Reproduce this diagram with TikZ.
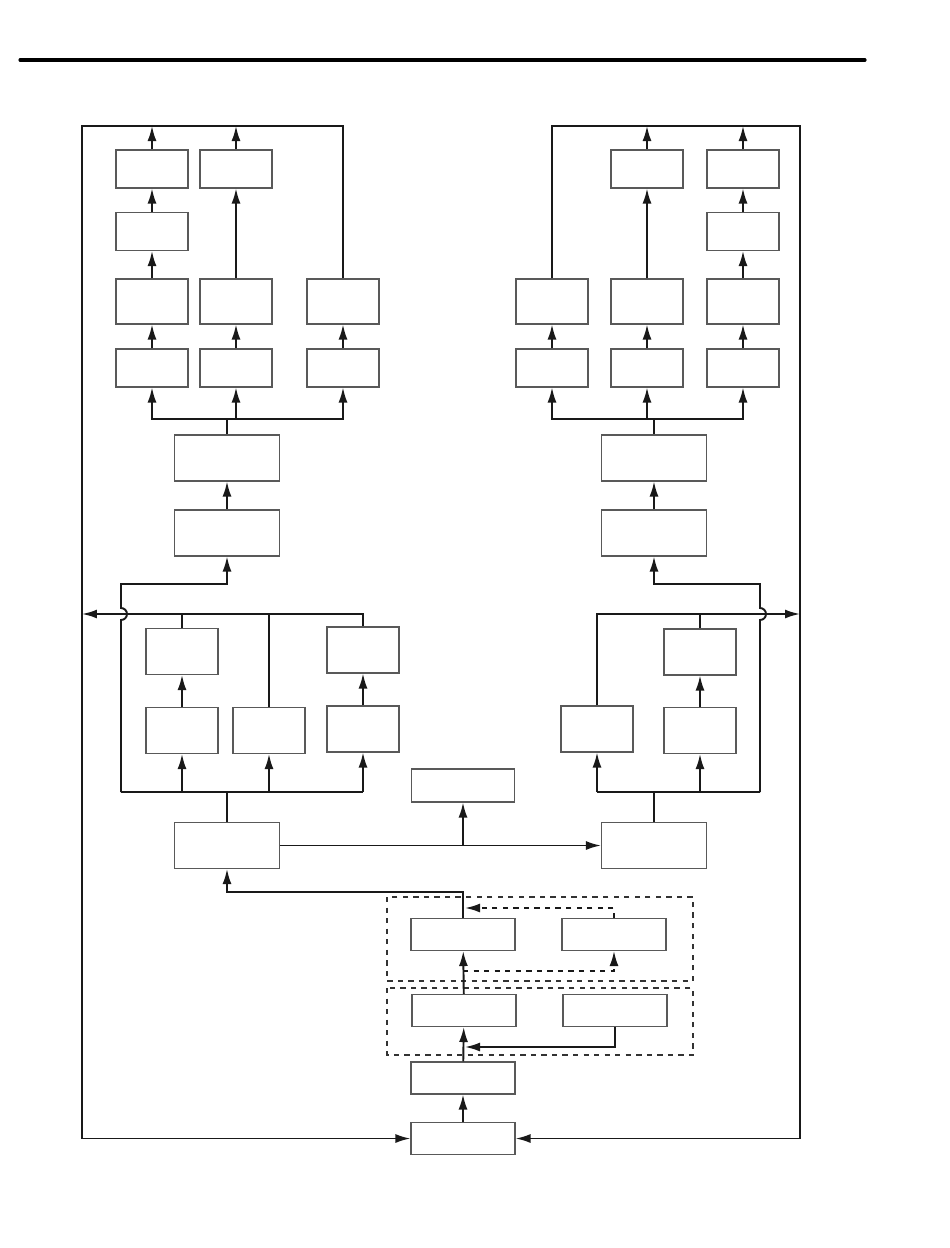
\documentclass[tikz,border=0pt]{standalone}
\usepackage{tikz}
\usetikzlibrary{positioning,arrows.meta,calc}
\tikzset{
  blk/.style={draw=black!65, line width=0.6pt, inner sep=0pt,
              minimum width=1.44cm, minimum height=0.76cm},
  blkhi/.style={blk, minimum height=0.9cm},
  blkmid/.style={blk, minimum height=0.92cm},
  blkwd/.style={blk, minimum width=2.1cm, minimum height=0.92cm},
  blkfl/.style={blk, minimum width=2.08cm, minimum height=0.64cm},
  flow/.style={-{Latex[length=3mm, width=1.8mm]}, line width=1.1pt, draw=black!90},
  link/.style={line width=1.1pt, draw=black!90},
  grp/.style={draw=black!80, dashed, line width=0.9pt},
}

\begin{document}
\begin{tikzpicture}[x=0.02cm, y=-0.02cm]
  \useasboundingbox (0,0) rectangle (950,1248);
  \draw[line width=1.8pt, line cap=round] (20,60) -- (865,60);

  % left top columns
  \node[blk]   (A1) at (152,169) {};
  \node[blk]   (A2) at (152,231.5) {};
  \node[blkhi] (A3) at (152,301.5) {};
  \node[blk]   (A4) at (152,368) {};
  \node[blk]   (B1) at (236,169) {};
  \node[blkhi] (B3) at (236,301.5) {};
  \node[blk]   (B4) at (236,368) {};
  \node[blkhi] (C3) at (343,301.5) {};
  \node[blk]   (C4) at (343,368) {};

  % right top columns
  \node[blkhi] (D3) at (552,301.5) {};
  \node[blk]   (D4) at (552,368) {};
  \node[blk]   (E1) at (647,169) {};
  \node[blkhi] (E3) at (647,301.5) {};
  \node[blk]   (E4) at (647,368) {};
  \node[blk]   (F1) at (743,169) {};
  \node[blk]   (F2) at (743,231.5) {};
  \node[blkhi] (F3) at (743,301.5) {};
  \node[blk]   (F4) at (743,368) {};

  \node[blkwd] (LU1) at (227,458) {};
  \node[blkwd] (LU2) at (227,533) {};
  \node[blkwd] (RU1) at (654,458) {};
  \node[blkwd] (RU2) at (654,533) {};

  % middle
  \node[blkmid] (G1) at (182,651.5) {};
  \node[blkmid] (G2) at (182,730.5) {};
  \node[blkmid] (H)  at (269,730.5) {};
  \node[blkmid] (I1) at (363,650) {};
  \node[blkmid] (I2) at (363,729) {};
  \node[blkmid] (J)  at (597,729) {};
  \node[blkmid] (K1) at (700,652) {};
  \node[blkmid] (K2) at (700,730.5) {};

  \node[blkwd] (L) at (227,845.5) {};
  \node[blkwd] (R) at (654,845.5) {};
  \node[blkfl, minimum height=0.66cm, minimum width=2.06cm] (M) at (463,785.5) {};

  % bottom
  \node[blkfl] (N1) at (463,934.5) {};
  \node[blkfl] (N2) at (614,934.5) {};
  \node[blkfl] (P1) at (464,1010.5) {};
  \node[blkfl] (P2) at (615,1010.5) {};
  \node[blkfl] (Q)  at (463,1078) {};
  \node[blkfl] (S)  at (463,1138.5) {};
  \draw[grp] (387,897) rectangle (693,981);
  \draw[grp] (387,988) rectangle (693,1055);

  \coordinate (ol) at (82,126);
  \coordinate (or) at (800,126);
  \coordinate (busL) at (227,419);
  \coordinate (busR) at (654,419);
  \coordinate (lowL) at (227,792);
  \coordinate (lowR) at (654,792);
  \coordinate (nl) at (227,892);

  % top left
  \draw[flow] (A4) -- (A3);
  \draw[flow] (A3) -- (A2);
  \draw[flow] (A2) -- (A1);
  \draw[flow] (A1) -- (A1 |- ol);
  \draw[flow] (B4) -- (B3);
  \draw[flow] (B3) -- (B1);
  \draw[flow] (B1) -- (B1 |- ol);
  \draw[flow] (C4) -- (C3);
  \draw[flow] (C3) |- (ol) -- (ol |- S) -- (S);

  % top right
  \draw[flow] (D4) -- (D3);
  \draw[flow] (D3) |- (or) -- (or |- S) -- (S);
  \draw[flow] (E4) -- (E3);
  \draw[flow] (E3) -- (E1);
  \draw[flow] (E1) -- (E1 |- or);
  \draw[flow] (F4) -- (F3);
  \draw[flow] (F3) -- (F2);
  \draw[flow] (F2) -- (F1);
  \draw[flow] (F1) -- (F1 |- or);

  \draw[link] (LU1) -- (busL);
  \draw[link] (RU1) -- (busR);
  \foreach \n in {A4,B4,C4} \draw[flow] (busL) -| (\n);
  \foreach \n in {D4,E4,F4} \draw[flow] (busR) -| (\n);
  \draw[flow] (LU2) -- (LU1);
  \draw[flow] (RU2) -- (RU1);

  % middle left
  \draw[link] (L) -- (lowL);
  \draw[link] (121,792) -- (363,792);
  \foreach \n in {G2,H,I2} \draw[flow] (\n |- lowL) -- (\n);
  \draw[flow] (G2) -- (G1);
  \draw[flow] (I2) -- (I1);
  \draw[link] (G1) -- (G1 |- 0,614);
  \draw[link] (H) -- (H |- 0,614);
  \draw[flow] (I1) |- (82,614);
  \draw[flow] (121,792) -- (121,620) arc[start angle=-90, end angle=90, radius=0.12cm]
    -- (121,584) -| (LU2);

  % middle right
  \draw[link] (R) -- (lowR);
  \draw[link] (597,792) -- (760,792);
  \foreach \n in {J,K2} \draw[flow] (\n |- lowR) -- (\n);
  \draw[flow] (K2) -- (K1);
  \draw[link] (K1) -- (K1 |- 0,614);
  \draw[flow] (J) |- (800,614);
  \draw[flow] (760,792) -- (760,620) arc[start angle=-90, end angle=90, radius=0.12cm]
    -- (760,584) -| (RU2);

  \draw[flow] (L) -- (R);
  \draw[flow] (M |- L) -- (M);

  % bottom
  \draw[flow] (N1) |- (nl) -- (L);
  \draw[flow, dashed] (N2) |- (465,908);
  \draw[flow, dashed] (463,971) -| (N2);
  \draw[flow] (P1) -- (N1);
  \draw[flow] (P2) |- (465,1047);
  \draw[flow] (Q) -- (P1);
  \draw[flow] (S) -- (Q);
\end{tikzpicture}
\end{document}
